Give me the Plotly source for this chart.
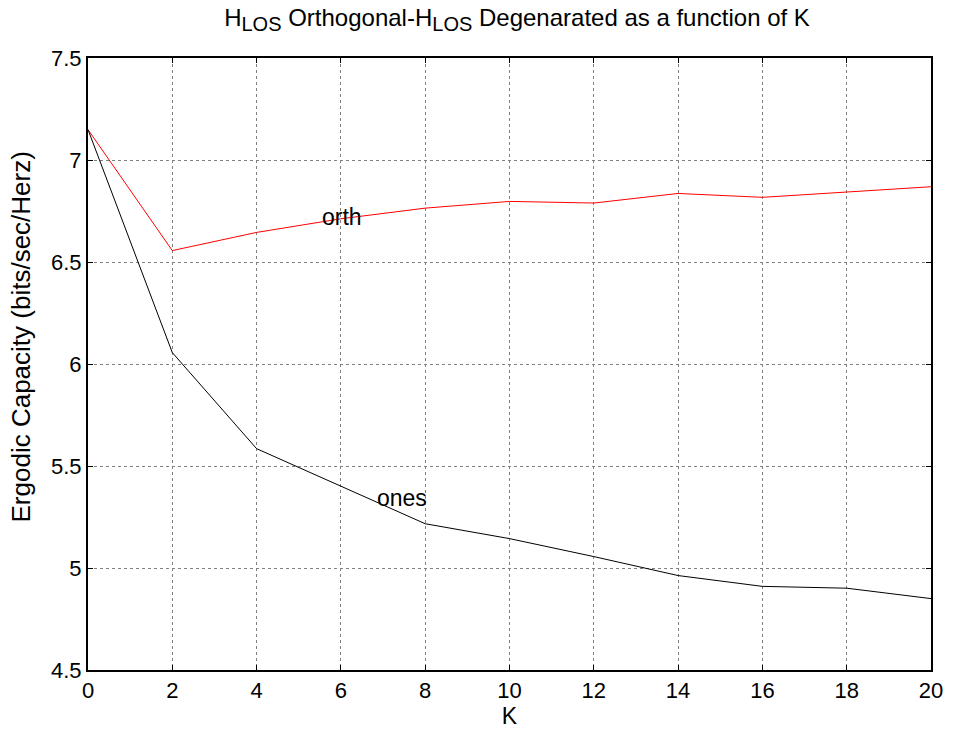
import plotly.graph_objects as go

K = [0, 2, 4, 6, 8, 10, 12, 14, 16, 18, 20]
orth = [7.149, 6.556, 6.645, 6.712, 6.764, 6.797, 6.789, 6.836, 6.817, 6.843, 6.869]
ones = [7.149, 6.056, 5.585, 5.40, 5.217, 5.144, 5.056, 4.963, 4.910, 4.901, 4.850]

x_ticks = list(range(0, 21, 2))
y_ticks = [4.5, 5, 5.5, 6, 6.5, 7, 7.5]

font = "Liberation Sans, Arial, sans-serif"

fig = go.Figure()
fig.add_trace(go.Scatter(x=K, y=orth, mode="lines", line=dict(color="#ff0000", width=1), name="orth"))
fig.add_trace(go.Scatter(x=K, y=ones, mode="lines", line=dict(color="#000000", width=1), name="ones"))

fig.add_annotation(x=5.5, y=6.722, text="orth", showarrow=False, xanchor="left", yanchor="middle",
                   font=dict(family=font, size=23, color="black"))
fig.add_annotation(x=6.82, y=5.344, text="ones", showarrow=False, xanchor="left", yanchor="middle",
                   font=dict(family=font, size=23, color="black"))

# y-axis title (placed like the reference, slightly above the plot centre)
fig.add_annotation(xref="paper", yref="paper", x=-0.079, y=0.544, textangle=-90,
                   text="Ergodic Capacity (bits/sec/Herz)", showarrow=False,
                   xanchor="center", yanchor="middle",
                   font=dict(family=font, size=26, color="black"))

axis_common = dict(
    showgrid=True, gridcolor="#808080", griddash="dot", gridwidth=1,
    ticks="inside", ticklen=5, tickcolor="black", tickwidth=1,
    showline=True, linecolor="black", linewidth=2, mirror="allticks",
    zeroline=False, tickfont=dict(family=font, size=22, color="black"),
)

sub = "<sub><span style='font-size:20px'>LOS</span></sub>"
fig.update_layout(
    width=955, height=736,
    margin=dict(l=88, r=17, t=58, b=63),
    paper_bgcolor="white", plot_bgcolor="white",
    showlegend=False,
    title=dict(text=f"H{sub} Orthogonal-H{sub} Degenarated as a function of K",
               x=517 / 955, xanchor="center", xref="container", y=0.988, yanchor="top",
               font=dict(family=font, size=24, color="black")),
    xaxis=dict(range=[0, 20], tickvals=x_ticks,
               title=dict(text="K", font=dict(family=font, size=23, color="black"), standoff=4),
               **axis_common),
    yaxis=dict(range=[4.5, 7.5], tickvals=y_ticks, ticktext=[str(v) for v in y_ticks],
               **axis_common),
)

fig.write_html("out.html")
